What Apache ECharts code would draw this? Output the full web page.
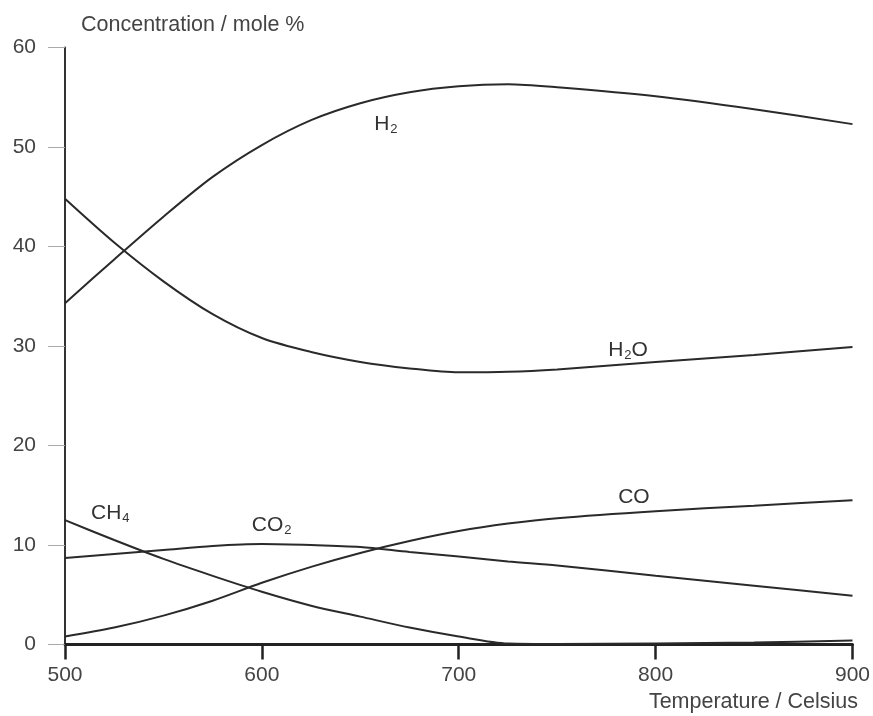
<!DOCTYPE html>
<html><head><meta charset="utf-8">
<script src="https://cdn.jsdelivr.net/npm/echarts@6/dist/echarts.min.js"></script>
<style>html,body{margin:0;padding:0;background:#fff}#c{width:873px;height:716px}</style>
</head><body><div id="c"></div>
<script>
const xTicks = [500, 600, 700, 800, 900];
const yTicks = [0, 10, 20, 30, 40, 50, 60];
const temps = [500, 525, 550, 575, 600, 625, 650, 675, 700, 725, 750, 800, 850, 900];
const h2  = [34.3, 38.7, 43.0, 47.0, 50.2, 52.7, 54.4, 55.5, 56.1, 56.3, 56.0, 55.1, 53.8, 52.3];
const h2o = [44.8, 40.4, 36.5, 33.2, 30.8, 29.4, 28.4, 27.75, 27.35, 27.4, 27.65, 28.4, 29.1, 29.9];
const ch4 = [12.5, 10.5, 8.6, 6.9, 5.3, 3.9, 2.8, 1.7, 0.8, 0.1, 0.05, 0.1, 0.2, 0.4];
const co2 = [8.7, 9.1, 9.5, 9.9, 10.1, 10.0, 9.8, 9.3, 8.85, 8.35, 7.95, 6.9, 5.9, 4.9];
const co  = [0.8, 1.7, 2.9, 4.4, 6.2, 7.8, 9.2, 10.4, 11.4, 12.15, 12.7, 13.4, 13.95, 14.5];
const labelTexts = ['{m|H}{s|2}', '{m|H}{s|2}{m|O}', '{m|CH}{s|4}', '{m|CO}{s|2}', '{m|CO}'];
const labelAt = [[663,52.3],[786,29.6],[523,13.2],[605,12.0],[789,14.8]];
const seriesValues = [h2, h2o, ch4, co2, co];
const chart = echarts.init(document.getElementById('c'));
const FF = 'Liberation Sans, Arial';
const rich = {m:{fontSize:21,fontFamily:FF,color:'#333'}, s:{fontSize:13,fontFamily:FF,color:'#333',padding:[11,0,0,1]}};
chart.setOption({
  backgroundColor:'#fff',
  animation:false,
  title:[
    {text:'Concentration / mole %', left:76, top:9, textStyle:{fontSize:21.5,fontWeight:'normal',color:'#444',fontFamily:FF}},
    {text:'Temperature / Celsius', right:10, top:686, textStyle:{fontSize:21.5,fontWeight:'normal',color:'#444',fontFamily:FF}}
  ],
  grid:{left:65, right:18, top:47.5, bottom:71.5, containLabel:false},
  xAxis:{type:'value', min:500, max:900, interval:100,
    axisLine:{show:true,lineStyle:{color:'#222',width:3}},
    axisTick:{show:true,length:15,lineStyle:{color:'#222',width:2.5}},
    axisLabel:{fontSize:21,color:'#444',margin:20,fontFamily:FF,
      formatter:v=>xTicks.includes(v)?String(v):''},
    splitLine:{show:false}},
  yAxis:{type:'value', min:0, max:60, interval:10,
    axisLine:{show:true,lineStyle:{color:'#333',width:2}},
    axisTick:{show:true,length:17,lineStyle:{color:'#aaa',width:1}},
    axisLabel:{fontSize:21,color:'#444',margin:29,fontFamily:FF,
      formatter:v=>yTicks.includes(v)?String(v):''},
    splitLine:{show:false}},
  series: seriesValues.map((vals,i)=>({
    type:'line', data:temps.map((t,j)=>[t, vals[j]]), smooth:0.3, symbol:'none',
    lineStyle:{color:'#2a2a2a',width:2},
    markPoint: {symbol:'circle', symbolSize:0, data:[{coord:labelAt[i], label:{show:true, position:'inside', formatter:labelTexts[i], rich:rich}}]}
  }))
});
</script></body></html>
